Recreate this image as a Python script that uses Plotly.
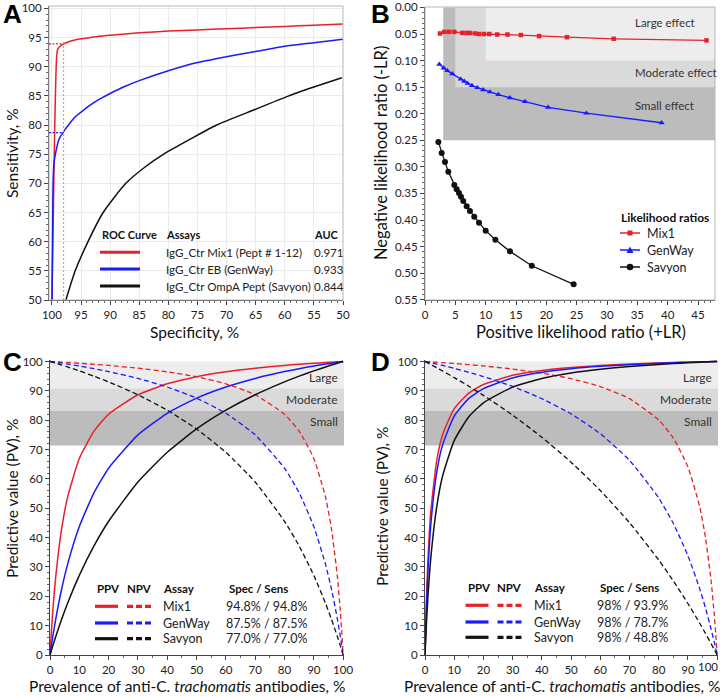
import plotly.graph_objects as go

W, H = 720, 696
FONT = "Lato"
RED = "#e8202a"
BLUE = "#1a1aff"
BLACK = "#111111"
ORANGE = "#f2a23a"
G_LARGE = "#ededed"
G_MOD = "#dadada"
G_SMALL = "#bcbcbc"

# ---------------- Panel A: ROC curves ----------------
A_SPEC_MIX1 = [100, 99.8, 99.6, 99.4, 99.2, 99.0, 98.6, 98.0, 97.0, 95.5, 94, 92, 90, 85, 80, 75, 70, 65, 60, 55, 50]
A_SENS_MIX1 = [50, 62, 75, 85, 91.5, 93.0, 93.5, 93.9, 94.3, 94.7, 94.9, 95.2, 95.4, 95.8, 96.1, 96.3, 96.5, 96.7, 96.9, 97.1, 97.3]
A_SPEC_GENWAY = [99.97, 99.9, 99.8, 99.65, 99.4, 99.2, 98.8, 98.1, 97.0, 96.0, 94.5, 93.0, 91.5, 90, 87.5, 85, 80, 75, 70, 65, 60, 55, 50]
A_SENS_GENWAY = [50, 60, 70, 73.5, 75.0, 76.0, 77.5, 78.7, 80.2, 81.4, 82.6, 83.7, 84.6, 85.4, 86.6, 87.6, 89.3, 90.7, 91.7, 92.6, 93.5, 94.1, 94.7]
A_SPEC_SAVYON = [97.6, 96.0, 93.8, 91.2, 87.3, 84.0, 80.8, 76.0, 71.7, 65.0, 59.3, 55.0, 50.2]
A_SENS_SAVYON = [50, 55, 60, 65, 70, 72.8, 75, 77.7, 80, 82.7, 85, 86.5, 88.1]
A_CUT_SPEC = 98
A_CUT_SENS = [93.9, 78.7]
A_ASSAYS = ["IgG_Ctr Mix1 (Pept # 1-12)", "IgG_Ctr EB (GenWay)", "IgG_Ctr OmpA Pept (Savyon)"]
A_AUC = ["0.971", "0.933", "0.844"]

# ---------------- Panel B: likelihood ratios ----------------
B_LRP_MIX1 = [2.47, 3.18, 3.95, 4.83, 6.15, 6.87, 7.41, 8.24, 8.9, 9.72, 10.6, 11.9, 13.6, 15.8, 18.8, 23.4, 31.1, 46.4]
B_LRN_MIX1 = [0.049, 0.046, 0.046, 0.046, 0.048, 0.048, 0.048, 0.049, 0.050, 0.050, 0.050, 0.051, 0.051, 0.052, 0.054, 0.056, 0.059, 0.062]
B_LRP_GENWAY = [2.36, 3.08, 3.67, 4.5, 5.88, 6.48, 7.03, 7.74, 8.62, 9.6, 10.7, 12.1, 14.0, 16.5, 20.3, 26.6, 39.0]
B_LRN_GENWAY = [0.107, 0.114, 0.119, 0.125, 0.135, 0.139, 0.143, 0.147, 0.151, 0.155, 0.159, 0.164, 0.170, 0.177, 0.188, 0.199, 0.217]
B_LRP_SAVYON = [2.2, 2.75, 3.3, 3.84, 4.83, 5.22, 5.6, 5.93, 6.31, 6.87, 7.41, 8.12, 8.9, 10.0, 11.6, 14.0, 17.6, 24.5]
B_LRN_SAVYON = [0.253, 0.274, 0.291, 0.309, 0.334, 0.342, 0.349, 0.356, 0.364, 0.374, 0.383, 0.394, 0.405, 0.420, 0.437, 0.459, 0.486, 0.521]
B_POS_THRESH = [3, 5, 10]          # small, moderate, large
B_NEG_THRESH = [0.25, 0.15, 0.10]  # small, moderate, large
B_XMAX = 47.8
B_NAMES = ["Mix1", "GenWay", "Savyon"]

# ---------------- Panels C & D: predictive values ----------------
PREV = [0, 0.5, 1, 2, 4, 6, 10, 15, 20, 30, 40, 50, 60, 70, 80, 85, 90, 94, 96, 98, 99, 99.5, 100]

C_PPV_MIX1 = [0, 8.39, 15.55, 27.12, 43.17, 53.78, 66.95, 76.29, 82.01, 88.65, 92.40, 94.80, 96.47, 97.70, 98.65, 99.04, 99.39, 99.65, 99.77, 99.89, 99.94, 99.97, 100]
C_NPV_MIX1 = [100, 99.97, 99.94, 99.89, 99.77, 99.65, 99.39, 99.04, 98.65, 97.70, 96.47, 94.80, 92.40, 88.65, 82.01, 76.29, 66.95, 53.78, 43.17, 27.12, 15.55, 8.39, 0]
C_PPV_GENWAY = [0, 3.40, 6.60, 12.50, 22.58, 30.88, 43.75, 55.26, 63.64, 75.0, 82.35, 87.5, 91.30, 94.23, 96.55, 97.54, 98.44, 99.10, 99.41, 99.71, 99.86, 99.93, 100]
C_NPV_GENWAY = [100, 99.93, 99.86, 99.71, 99.41, 99.10, 98.44, 97.54, 96.55, 94.23, 91.30, 87.5, 82.35, 75.0, 63.64, 55.26, 43.75, 30.88, 22.58, 12.50, 6.60, 3.40, 0]
C_PPV_SAVYON = [0, 1.65, 3.27, 6.40, 12.24, 17.61, 27.11, 37.14, 45.56, 58.93, 69.06, 77.0, 83.39, 88.65, 93.05, 94.99, 96.79, 98.13, 98.77, 99.39, 99.70, 99.85, 100]
C_NPV_SAVYON = [100, 99.85, 99.70, 99.39, 98.77, 98.13, 96.79, 94.99, 93.05, 88.65, 83.39, 77.0, 69.06, 58.93, 45.56, 37.14, 27.11, 17.61, 12.24, 6.40, 3.27, 1.65, 0]
C_SPEC_SENS = ["94.8% / 94.8%", "87.5% / 87.5%", "77.0% / 77.0%"]

D_PPV_MIX1 = [0, 19.09, 32.17, 48.93, 66.17, 74.98, 83.91, 89.23, 92.15, 95.27, 96.90, 97.91, 98.60, 99.10, 99.47, 99.63, 99.76, 99.86, 99.91, 99.96, 99.98, 99.99, 100]
D_NPV_MIX1 = [100, 99.97, 99.94, 99.87, 99.74, 99.60, 99.31, 98.91, 98.47, 97.40, 96.02, 94.14, 91.46, 87.32, 80.07, 73.93, 64.09, 50.63, 40.10, 24.69, 13.96, 7.47, 0]
D_PPV_GENWAY = [0, 16.51, 28.44, 44.54, 62.12, 71.52, 81.39, 87.41, 90.77, 94.40, 96.33, 97.52, 98.33, 98.92, 99.37, 99.55, 99.72, 99.84, 99.89, 99.95, 99.97, 99.99, 100]
D_NPV_GENWAY = [100, 99.89, 99.78, 99.56, 99.10, 98.63, 97.64, 96.31, 94.85, 91.48, 87.34, 82.15, 75.41, 66.35, 53.49, 44.81, 33.83, 22.70, 16.09, 8.58, 4.44, 2.26, 0]
D_PPV_SAVYON = [0, 10.92, 19.77, 33.24, 50.41, 60.90, 73.05, 81.15, 85.92, 91.27, 94.21, 96.06, 97.34, 98.27, 98.99, 99.28, 99.55, 99.74, 99.83, 99.92, 99.96, 99.98, 100]
D_NPV_SAVYON = [100, 99.74, 99.47, 98.94, 97.87, 96.77, 94.51, 91.56, 88.45, 81.71, 74.17, 65.69, 56.06, 45.06, 32.37, 25.25, 17.54, 10.89, 7.39, 3.76, 1.90, 0.95, 0]
D_SPEC_SENS = ["98% / 93.9%", "98% / 78.7%", "98% / 48.8%"]

PV_TICKS = [0, 10, 20, 30, 40, 50, 60, 70, 80, 90, 100]
PV_BANDS = [71.4, 83.3, 90.9, 100]
PV_BAND_LABELS = ["Small", "Moderate", "Large"]
PV_BAND_LABEL_Y = [79.5, 87.0, 94.5]
ASSAY_NAMES = ["Mix1", "GenWay", "Savyon"]
COLORS = [RED, BLUE, BLACK]


def px(x):
    return x / W


def py(y):
    return 1 - y / H


fig = go.Figure()

# ---- A traces
for xs, ys, c in [(A_SPEC_MIX1, A_SENS_MIX1, RED), (A_SPEC_GENWAY, A_SENS_GENWAY, BLUE),
                  (A_SPEC_SAVYON, A_SENS_SAVYON, BLACK)]:
    fig.add_trace(go.Scatter(x=xs, y=ys, mode="lines", line=dict(color=c, width=1.5, shape="spline", smoothing=0.6),
                             xaxis="x", yaxis="y", showlegend=False, hoverinfo="skip"))

# ---- B traces
B_STYLE = [(RED, "square", 4.5), (BLUE, "triangle-up", 5.5), (BLACK, "circle", 6)]
for xs, ys, (c, sym, ms) in zip([B_LRP_MIX1, B_LRP_GENWAY, B_LRP_SAVYON], [B_LRN_MIX1, B_LRN_GENWAY, B_LRN_SAVYON], B_STYLE):
    fig.add_trace(go.Scatter(x=xs, y=ys, mode="lines+markers",
                             line=dict(color=c, width=1.3), marker=dict(symbol=sym, size=ms, color=c),
                             xaxis="x2", yaxis="y2", showlegend=False))

# ---- C & D traces
for ax, sets in [(("x3", "y3"), [(C_PPV_MIX1, C_NPV_MIX1), (C_PPV_GENWAY, C_NPV_GENWAY), (C_PPV_SAVYON, C_NPV_SAVYON)]),
                 (("x4", "y4"), [(D_PPV_MIX1, D_NPV_MIX1), (D_PPV_GENWAY, D_NPV_GENWAY), (D_PPV_SAVYON, D_NPV_SAVYON)])]:
    for (ppv, npv), c in zip(sets, COLORS):
        fig.add_trace(go.Scatter(x=PREV, y=npv, mode="lines",
                                 line=dict(color=c, width=1.3, dash="5px,3px", shape="spline", smoothing=0.5),
                                 xaxis=ax[0], yaxis=ax[1], showlegend=False, hoverinfo="skip"))
        fig.add_trace(go.Scatter(x=PREV, y=ppv, mode="lines",
                                 line=dict(color=c, width=1.5, shape="spline", smoothing=0.5),
                                 xaxis=ax[0], yaxis=ax[1], showlegend=False, hoverinfo="skip"))

shapes = []
annotations = []

# ---- light frames around panels A and B
for xd, yd in [("x domain", "y domain"), ("x2 domain", "y2 domain")]:
    shapes.append(dict(type="rect", xref=xd, yref=yd, x0=0, x1=1, y0=0, y1=1,
                       line=dict(color="#b5b5b5", width=1), fillcolor="rgba(0,0,0,0)", layer="above"))

# ---- B shaded effect regions
for xt, yt, col in zip(B_POS_THRESH, B_NEG_THRESH, [G_SMALL, G_MOD, G_LARGE]):
    shapes.append(dict(type="rect", xref="x2", yref="y2", x0=xt, x1=B_XMAX, y0=0, y1=yt,
                       fillcolor=col, line=dict(width=0), layer="below"))
for lab, yv in zip(["Large effect", "Moderate effect", "Small effect"], [0.028, 0.122, 0.184]):
    annotations.append(dict(text=lab, xref="x2", yref="y2", x=34.3, y=yv, xanchor="left", yanchor="middle",
                            showarrow=False, font=dict(size=11.5, color="#333")))

# ---- B legend (manual)
annotations.append(dict(text="<b>Likelihood ratios</b>", xref="paper", yref="paper", x=px(619), y=py(218),
                        xanchor="left", yanchor="middle", showarrow=False, font=dict(size=12, color="#111")))
for i, (nm, (c, sym, ms)) in enumerate(zip(B_NAMES, B_STYLE)):
    yy = [233, 250, 267][i]
    shapes.append(dict(type="line", xref="paper", yref="paper", x0=px(620), x1=px(640), y0=py(yy), y1=py(yy),
                       line=dict(color=c, width=1.5)))
    cx = 630
    if sym == "square":
        shapes.append(dict(type="rect", xref="paper", yref="paper", x0=px(cx - 2.5), x1=px(cx + 2.5),
                           y0=py(yy + 2.5), y1=py(yy - 2.5), fillcolor=c, line=dict(width=0)))
    elif sym == "circle":
        shapes.append(dict(type="circle", xref="paper", yref="paper", x0=px(cx - 3.3), x1=px(cx + 3.3),
                           y0=py(yy + 3.3), y1=py(yy - 3.3), fillcolor=c, line=dict(width=0)))
    else:
        path = "M %f,%f L %f,%f L %f,%f Z" % (px(cx - 3.5), py(yy + 3), px(cx + 3.5), py(yy + 3), px(cx), py(yy - 3.5))
        shapes.append(dict(type="path", xref="paper", yref="paper", path=path, fillcolor=c, line=dict(width=0)))
    annotations.append(dict(text=nm, xref="paper", yref="paper", x=px(645), y=py(yy), xanchor="left",
                            yanchor="middle", showarrow=False, font=dict(size=12.5, color="#222")))

# ---- C/D bands
for xr, yr, xd in [("x3", "y3", "x3 domain"), ("x4", "y4", "x4 domain")]:
    for i, col in enumerate([G_SMALL, G_MOD, G_LARGE]):
        shapes.append(dict(type="rect", xref=xd, yref=yr, x0=0, x1=1, y0=PV_BANDS[i], y1=PV_BANDS[i + 1],
                           fillcolor=col, line=dict(width=0), layer="below"))
    for lab, yv in zip(PV_BAND_LABELS, PV_BAND_LABEL_Y):
        annotations.append(dict(text=lab, xref=xd, yref=yr, x=0.985, y=yv, xanchor="right", yanchor="middle",
                                showarrow=False, font=dict(size=12, color="#333")))

# ---- A cutoff guides
shapes.append(dict(type="line", xref="x", yref="y", x0=A_CUT_SPEC, x1=A_CUT_SPEC, y0=50, y1=94.6,
                   line=dict(color=ORANGE, width=1.2, dash="2px,2px")))
for s, c in zip(A_CUT_SENS, [RED, BLUE]):
    shapes.append(dict(type="line", xref="x", yref="y", x0=100.5, x1=A_CUT_SPEC, y0=s, y1=s,
                       line=dict(color=c, width=1.3, dash="2px,1.5px")))

# ---- A legend
a_leg = [
    dict(text="<b>ROC Curve</b>", x=px(100), y=py(234), xanchor="left", font=dict(size=11, color="#111")),
    dict(text="<b>Assays</b>", x=px(164), y=py(234), xanchor="left", font=dict(size=11, color="#111")),
    dict(text="<b>AUC</b>", x=px(312), y=py(234), xanchor="left", font=dict(size=11, color="#111")),
]
for i, (nm, auc, c) in enumerate(zip(A_ASSAYS, A_AUC, COLORS)):
    yy = [252.3, 269, 286][i]
    shapes.append(dict(type="line", xref="paper", yref="paper", x0=px(100), x1=px(140), y0=py(yy), y1=py(yy),
                       line=dict(color=c, width=3)))
    a_leg.append(dict(text=nm, x=px(164), y=py(yy), xanchor="left", font=dict(size=11.5, color="#222")))
    a_leg.append(dict(text=auc, x=px(312), y=py(yy), xanchor="left", font=dict(size=11.5, color="#222")))
for a in a_leg:
    a.update(xref="paper", yref="paper", yanchor="middle", showarrow=False)
annotations += a_leg

# ---- C/D legends
for dx, hy, rows, vals in [(0, 588, [606.3, 623, 638.7], C_SPEC_SENS), (370.5, 587.3, [605.3, 622, 637.3], D_SPEC_SENS)]:
    hdr = [("<b>PPV</b>", 109 + dx, "center"), ("<b>NPV</b>", 139 + dx, "center"),
           ("<b>Assay</b>", 161 + dx, "left"), ("<b>Spec / Sens</b>", 227 + dx, "left")]
    for t, x, xa in hdr:
        annotations.append(dict(text=t, xref="paper", yref="paper", x=px(x), y=py(hy), xanchor=xa, yanchor="middle",
                                showarrow=False, font=dict(size=11.5, color="#111")))
    for yy, nm, v, c in zip(rows, ASSAY_NAMES, vals, COLORS):
        shapes.append(dict(type="line", xref="paper", yref="paper", x0=px(95 + dx), x1=px(118 + dx), y0=py(yy), y1=py(yy),
                           line=dict(color=c, width=3.2)))
        shapes.append(dict(type="line", xref="paper", yref="paper", x0=px(127 + dx), x1=px(152 + dx), y0=py(yy), y1=py(yy),
                           line=dict(color=c, width=3.2, dash="6px,3px")))
        annotations.append(dict(text=nm, xref="paper", yref="paper", x=px(161 + dx), y=py(yy), xanchor="left",
                                yanchor="middle", showarrow=False, font=dict(size=12.5, color="#222")))
        annotations.append(dict(text=v, xref="paper", yref="paper", x=px(224 + dx), y=py(yy), xanchor="left",
                                yanchor="middle", showarrow=False, font=dict(size=12.5, color="#222")))

# ---- panel letters
for t, x, y in [("A", 1, 14), ("B", 369, 14), ("C", 1, 362), ("D", 369, 362)]:
    annotations.append(dict(text="<b>%s</b>" % t, xref="paper", yref="paper", x=px(x), y=py(y), xanchor="left",
                            yanchor="middle", showarrow=False, font=dict(size=26, color="#000", family="Liberation Sans")))

# ---- axis titles
for t, x, y, ang, fs in [("Sensitivity, %", 12, 153, -90, 15.5), ("Specificity, %", 194, 332, 0, 15.5),
                         ("Negative likelihood ratio (-LR)", 381, 153, -90, 16.5),
                         ("Positive likelihood ratio (+LR)", 581, 332, 0, 16.5),
                         ("Predictive value (PV), %", 12, 498, -90, 15.5),
                         ("Prevalence of anti-C. <i>trachomatis</i> antibodies, %", 187, 686, 0, 15.5),
                         ("Predictive value (PV), %", 382, 506, -90, 15.5),
                         ("Prevalence of anti-C. <i>trachomatis</i> antibodies, %", 562, 686, 0, 15.5)]:
    annotations.append(dict(text=t, xref="paper", yref="paper", x=px(x), y=py(y), xanchor="center", yanchor="middle",
                            textangle=ang, showarrow=False, font=dict(size=fs, color="#111")))

# ---- D "100" tick label kept inside the page (as in the reference)
annotations.append(dict(text="100", xref="paper", yref="paper", x=px(720), y=py(666), xanchor="right",
                        yanchor="middle", showarrow=False, font=dict(size=11.5, color="#222")))

TICKF = dict(size=11.5, color="#222")
common = dict(showline=True, linecolor="#444", linewidth=1, ticks="outside", ticklen=4, tickcolor="#444",
              tickfont=TICKF, zeroline=False, automargin=False)

fig.update_layout(
    width=W, height=H, margin=dict(l=0, r=0, t=0, b=0),
    paper_bgcolor="white", plot_bgcolor="rgba(0,0,0,0)",
    font=dict(family=FONT, color="#222"),
    template="none",
    showlegend=False,
    xaxis=dict(domain=[px(49), px(343)], anchor="y", range=[100.5, 50], dtick=5, tick0=50,
               minor=dict(dtick=1, ticklen=2, tickcolor="#666", showgrid=False),
               showgrid=True, gridcolor="#ebebeb", **common),
    yaxis=dict(domain=[py(300), py(6)], anchor="x", range=[50, 100.4], dtick=5,
               minor=dict(dtick=1, ticklen=2, tickcolor="#666", showgrid=False),
               showgrid=True, gridcolor="#ebebeb", **common),
    xaxis2=dict(domain=[px(425), px(715)], anchor="y2", range=[0, B_XMAX], dtick=5,
                minor=dict(dtick=1, ticklen=2, tickcolor="#666"), showgrid=False, **common),
    yaxis2=dict(domain=[py(300), py(7)], anchor="x2", range=[0.5505, -0.0008], dtick=0.05, tick0=0, tickformat=".2f",
                minor=dict(dtick=0.01, ticklen=2, tickcolor="#666"), showgrid=False, **common),
    xaxis3=dict(domain=[px(50), px(344)], anchor="y3", range=[0, 100.3], dtick=10,
                minor=dict(dtick=5, ticklen=2, tickcolor="#666"), showgrid=False, **common),
    yaxis3=dict(domain=[py(655), py(360)], anchor="x3", range=[0, 100.5], dtick=10,
                minor=dict(dtick=2, ticklen=2, tickcolor="#666"), showgrid=False, **common),
    xaxis4=dict(domain=[px(425), px(718)], anchor="y4", range=[0, 100.3], tickmode="array",
                tickvals=PV_TICKS, ticktext=[str(v) if v < 100 else "" for v in PV_TICKS],
                minor=dict(dtick=5, ticklen=2, tickcolor="#666"), showgrid=False, **common),
    yaxis4=dict(domain=[py(655), py(360)], anchor="x4", range=[0, 100.5], dtick=10,
                minor=dict(dtick=2, ticklen=2, tickcolor="#666"), showgrid=False, **common),
    shapes=shapes, annotations=annotations,
)

fig.write_html("out.html", config={"displayModeBar": False},
               post_script="document.body.style.margin='0';document.body.style.overflow='hidden';")
